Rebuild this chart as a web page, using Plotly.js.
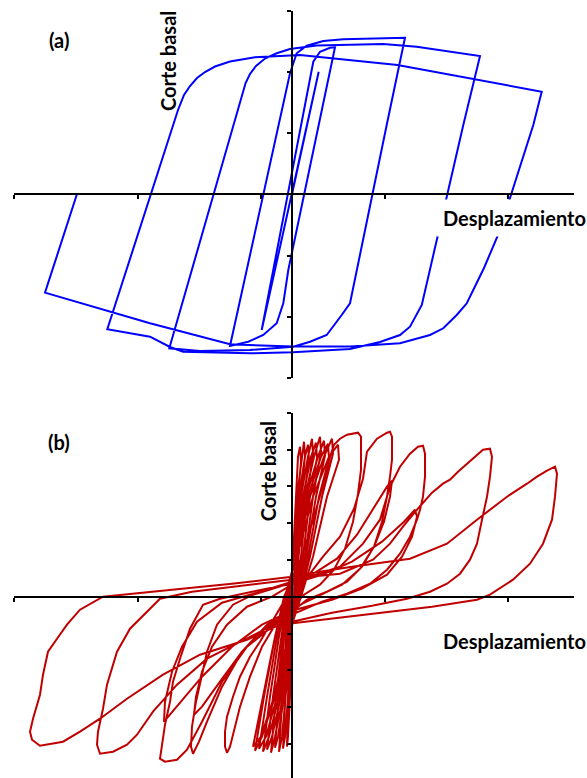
<!DOCTYPE html>
<html>
<head>
<meta charset="utf-8">
<script src="https://cdn.plot.ly/plotly-3.0.1.min.js"></script>
<style>
  html, body { margin: 0; padding: 0; background: #ffffff; }
  #chart { width: 587px; height: 778px; }
</style>
</head>
<body>
<div id="chart"></div>
<script>
// ---------- Panel (a): values (arbitrary units) ----------
const aDisp = [
  0, 26.7,
  -30.3,
  21.3, 28, 38, 43,
  -3.7, -8.7, -15.3, -28.7, -43.7, -62,
  -2, 4.7, 14.7, 31.3, 51.3, 113,
  94.7, 58, 49.7, 34.7, 18, 1.3, -42, -92, -122.7,
  -46.4, -42, -36, -27, -15.3, -2, 24.7, 91.3, 124.7, 188,
  171.3, 129.8, 124.7, 118, 108, 88, 58, 1, -42, -109, -122, -142, -184.7,
  -118.7, -114, -108, -102, -95, -87, -77, -62, -37, 8, 105.5, 249.7,
  241.3, 218.5, 206.7, 192, 174.8, 164.7, 151.3, 138, 108, 58, 1, -62, -142, -247,
  -215.1
];
const aShear = [
  0, 122.6,
  -135.7,
  132.6, 142.6, 146.6, 147,
  -75.7, -109, -129, -140.7, -147.4, -151.7,
  121, 141, 148.6, 153.3, 155, 156.6,
  69.3, -109, -120.7, -140.7, -147.4, -152.4, -155.7, -156.7, -154,
  111.3, 120.3, 128.3, 135.8, 141, 145.3, 148.8, 150.3, 147.6, 138.3,
  69.3, -110.7, -120.7, -132.4, -140.7, -147.7, -154.7, -158, -159, -157.4, -152.7, -142.4, -135,
  69.3, 84.3, 99.3, 108.3, 116.3, 122.3, 127.8, 132.8, 137, 139.3, 129.3, 102.6,
  69.3, -0.7, -39, -73.7, -109, -120.7, -134, -140.7, -149, -152.2, -152.2, -150, -129, -98.4,
  0
];

// ---------- Panel (b): values (arbitrary units) ----------
const bDisp = [
  0,
  1, 4, 6, 8, 9, 6, 4, 2, -1, -2, -4, -5,
  -4, -2, -1, 1, 5, 10, 12, 13, 9, 5, 2, -1, -4, -7, -9,
  -7, -4, -2, 2, 7, 13, 16, 17, 12, 7, 3, -1, -6, -10, -13,
  -10, -6, -3, 2, 9, 16, 20, 21, 15, 9, 4, -2, -8, -14, -17,
  -13, -8, -3, 2, 11, 19, 24, 25, 18, 11, 5, -2, -9, -17, -21,
  -16, -9, -4, 3, 13, 22, 28, 29, 21, 13, 6, -3, -11, -20, -25,
  -19, -11, -5, 3, 14, 26, 32, 33, 24, 14, 6, -3, -13, -23, -29,
  -22, -13, -6, 4, 16, 29, 36, 37, 27, 16, 7, -3, -15, -26, -33,
  -25, -15, -7, 4, 18, 32, 40, 41, 30, 18, 8, -4, -17, -30, -37,
  -28, -17, -7, 5, 21, 37, 46, 47, 35, 21, 9, -4, -18, -31, -39,
  -29, -18, -8,
  10, 22, 32, 38, 42, 48, 55, 66, 69, 69, 66, 61, 53, 42, 28, 12, 0,
  -15, -30, -42, -52, -58, -62, -65, -67, -67, -65, -59, -52, -42, -32, -20, -10, 0,
  18, 31, 48, 62, 71, 75, 85, 95, 98, 100, 100, 98, 95, 90, 82, 70, 55, 35, 15, 0,
  -25, -50, -70, -85, -93, -99, -101, -100, -96, -90, -85, -75, -59, -39, 0,
  20, 45, 65, 82, 95, 100, 98, 92, 82, 68, 50, 25, 0,
  -25, -50, -72, -90, -98, -96, -90, -80, -65, -45, -20, 0,
  18, 48, 71, 88, 98, 108, 118, 126, 131, 133, 133, 131, 128, 125, 118, 108, 95, 78, 55, 30, 0,
  -20, -45, -70, -90, -105, -115, -127, -132, -130, -127, -122, -119, -112, -102, -89, -72, -40, 0,
  30, 60, 90, 112, 123, 125, 120, 110, 95, 70, 40, 0,
  -30, -60, -90, -115, -128, -127, -120, -110, -95, -70, -35, 0,
  18, 48, 81, 98, 111, 125, 140, 151, 158, 166, 175, 185, 191, 198, 200, 198, 195, 190, 185, 178, 168, 155, 138, 115, 80, 40, 0,
  -12, -45, -85, -115, -139, -155, -165, -179, -192, -195, -194, -189, -185, -175, -162, -145, -132, -100, -50, 0,
  15, 60, 118, 155, 185, 215, 235, 245, 255, 263, 265, 263, 260, 251, 238, 221, 198, 185, 140, 90, 40, 0,
  -12, -45, -92, -129, -165, -192, -212, -229, -252, -260, -262, -259, -252, -249, -244, -235, -225, -212, -189, -120, -60, 0
];
const bShear = [
  0,
  40, 100, 140, 150, 135, 100, 40, 0, -40, -100, -140, -150,
  -100, -40, 0, 40, 100, 140, 155, 140, 100, 40, 0, -40, -100, -140, -152,
  -100, -40, 0, 40, 100, 140, 152, 137, 100, 40, 0, -40, -100, -140, -155,
  -100, -40, 0, 40, 100, 140, 158, 143, 100, 40, 0, -40, -100, -140, -151,
  -100, -40, 0, 40, 100, 140, 154, 139, 100, 40, 0, -40, -100, -140, -156,
  -100, -40, 0, 40, 100, 140, 160, 145, 100, 40, 0, -40, -100, -140, -153,
  -100, -40, 0, 40, 100, 140, 156, 141, 100, 40, 0, -40, -100, -140, -155,
  -100, -40, 0, 40, 100, 140, 153, 138, 100, 40, 0, -40, -100, -140, -152,
  -100, -40, 0, 40, 100, 140, 158, 143, 100, 40, 0, -40, -100, -140, -154,
  -100, -40, 0, 40, 100, 140, 152, 137, 100, 40, 0, -40, -100, -140, -150,
  -100, -45, 0,
  40, 80, 115, 140, 152, 158, 162, 164, 160, 127, 103, 75, 48, 27, 12, 2, -10,
  -25, -50, -80, -110, -135, -150, -156, -150, -135, -120, -100, -80, -60, -45, -25, -8, 14,
  23, 40, 60, 88, 118, 145, 158, 164, 165, 160, 137, 120, 100, 75, 50, 30, 15, 5, -3, -15,
  -30, -55, -90, -125, -145, -157, -150, -130, -105, -78, -55, -28, -8, 2, 14,
  22, 38, 62, 90, 110, 116, 100, 75, 50, 28, 12, 0, -12,
  -28, -55, -85, -110, -118, -100, -75, -50, -28, -10, 0, 12,
  20, 30, 53, 77, 110, 130, 143, 150, 151, 143, 120, 100, 87, 77, 60, 43, 27, 13, 3, -5, -18,
  -30, -50, -85, -125, -153, -163, -165, -162, -148, -128, -105, -85, -62, -32, -8, -2, 5, 13,
  22, 35, 55, 75, 87, 80, 60, 40, 22, 8, -3, -14,
  -28, -50, -80, -110, -125, -105, -75, -50, -25, -6, 4, 15,
  20, 23, 37, 53, 70, 87, 104, 113, 117, 125, 133, 142, 147, 148, 140, 120, 100, 77, 53, 37, 23, 13, 5, -2, -9, -16, -25,
  -25, -42, -62, -88, -115, -138, -148, -155, -157, -148, -135, -112, -88, -55, -32, -15, -2, 5, 11, 17,
  23, 30, 38, 53, 77, 100, 113, 120, 126, 130, 123, 100, 77, 53, 33, 17, 2, -3, -10, -16, -22, -27,
  -28, -43, -58, -78, -102, -122, -135, -145, -149, -143, -135, -122, -98, -78, -55, -42, -28, -13, 0, 7, 13, 20
];

// Unlabelled tick positions (same units as the data)
const xTicks = [-278.1, -154.5, -31, 92.7, 216.3];
const aYTicks = [-183.6, -122.4, -61.2, 61.2, 122.4, 183.6];
const bYTicks = [-147.2, -110.4, -73.6, -36.8, 36.8, 73.6, 110.4, 147.2, 184];

const labelFont = { family: 'Lato, "Open Sans", sans-serif', size: 20, color: '#000000', weight: 'bold' };
const panelFont = { family: 'Lato, "Open Sans", sans-serif', size: 20, color: '#000000', weight: 'bold' };

function axisCommon(extra) {
  return Object.assign({
    showgrid: false, zeroline: false, showline: true,
    linecolor: '#000000', linewidth: 2,
    ticks: 'outside', ticklen: 4, tickwidth: 2, tickcolor: '#000000',
    showticklabels: false, tickmode: 'array', fixedrange: true
  }, extra);
}

const traces = [
  { x: aDisp, y: aShear, type: 'scatter', mode: 'lines', xaxis: 'x', yaxis: 'y',
    line: { color: '#0000FF', width: 2 }, hoverinfo: 'skip' },
  { x: bDisp, y: bShear, type: 'scatter', mode: 'lines', xaxis: 'x2', yaxis: 'y2',
    line: { color: '#C00000', width: 2 }, hoverinfo: 'skip' }
];

const W = 587, H = 778;
const layout = {
  width: W, height: H,
  margin: { l: 0, r: 0, t: 0, b: 0, pad: 0 },
  paper_bgcolor: '#ffffff', plot_bgcolor: 'rgba(0,0,0,0)',
  showlegend: false, hovermode: false,
  xaxis: axisCommon({ domain: [13.7 / W, 573.7 / W], range: [-278.3, 281.7],
    anchor: 'free', position: 1 - 194.3 / H, tickvals: xTicks }),
  yaxis: axisCommon({ domain: [1 - 378.3 / H, 1 - 10.6 / H], range: [-184, 183.7],
    anchor: 'free', position: 292 / W, tickvals: aYTicks }),
  xaxis2: axisCommon({ domain: [13.7 / W, 573.7 / W], range: [-278.3, 281.7],
    anchor: 'free', position: 1 - 596.7 / H, tickvals: xTicks }),
  yaxis2: axisCommon({ domain: [0, 1 - 412.5 / H], range: [-181.3, 184.2],
    anchor: 'free', position: 292 / W, tickvals: bYTicks }),
  annotations: [
    { text: '(a)', xref: 'paper', yref: 'paper', x: 58.7 / W, y: 1 - 40 / H,
      xanchor: 'center', yanchor: 'middle', showarrow: false, font: panelFont },
    { text: 'Corte basal', xref: 'paper', yref: 'paper', x: 168.7 / W, y: 1 - 61.3 / H,
      xanchor: 'center', yanchor: 'middle', textangle: -90, showarrow: false, font: labelFont },
    { text: 'Desplazamiento', xref: 'paper', yref: 'paper', x: 514 / W, y: 1 - 218.3 / H,
      xanchor: 'center', yanchor: 'middle', showarrow: false, font: labelFont,
      bgcolor: '#ffffff', borderpad: 6 },
    { text: '(b)', xref: 'paper', yref: 'paper', x: 59 / W, y: 1 - 441.5 / H,
      xanchor: 'center', yanchor: 'middle', showarrow: false, font: panelFont },
    { text: 'Corte basal', xref: 'paper', yref: 'paper', x: 267.5 / W, y: 1 - 471.7 / H,
      xanchor: 'center', yanchor: 'middle', textangle: -90, showarrow: false, font: labelFont },
    { text: 'Desplazamiento', xref: 'paper', yref: 'paper', x: 514 / W, y: 1 - 640.5 / H,
      xanchor: 'center', yanchor: 'middle', showarrow: false, font: labelFont }
  ]
};

Plotly.newPlot('chart', traces, layout, { staticPlot: true, displayModeBar: false, responsive: false });
</script>
</body>
</html>
